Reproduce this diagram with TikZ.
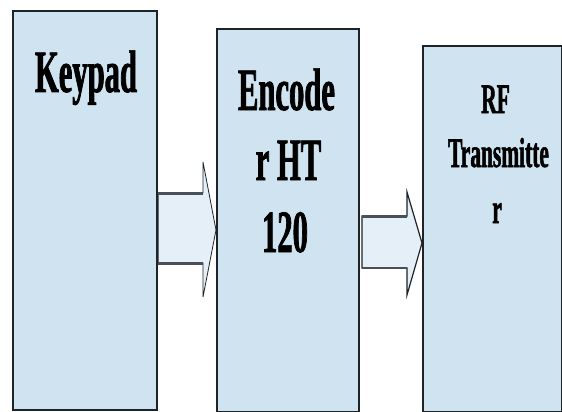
\documentclass[tikz,border=0pt]{standalone}
\usepackage{fontspec}
\newfontfamily\cf{Liberation Serif Bold}[FakeStretch=0.51,FakeBold=1.2]
\usetikzlibrary{calc}
\definecolor{boxfill}{HTML}{CFE3F0}
\definecolor{arrfill}{HTML}{E4EFF7}
\definecolor{shaftline}{HTML}{4A5058}
\definecolor{edge}{HTML}{1E2328}
\tikzset{
  box/.style={draw=edge, fill=boxfill, line width=1.6pt, rectangle, anchor=north west, inner sep=0pt},
  bigtxt/.style={font=\cf\fontsize{60}{70}\selectfont, anchor=base, inner sep=0pt, text=black},
  midtxt/.style={font=\cf\fontsize{42}{50}\selectfont, anchor=base, inner sep=0pt, text=black},
  blkarrow/.style={draw=edge, fill=arrfill, line width=0.8pt, line join=miter},
  shaft/.style={draw=shaftline, line width=3pt}
}
\begin{document}
\begin{tikzpicture}[x=1pt,y=-1pt]
\useasboundingbox (0,0) rectangle (562,412);
\fill[white] (0,0) rectangle (562,412);
% boxes
\node[box, line width=2.2pt, minimum width=144pt, minimum height=399pt] (kp) at (12,10) {};
\node[box, minimum width=142pt, minimum height=383pt] (enc) at (216,28) {};
\node[box, minimum width=139pt, minimum height=366pt] (rf) at (422,45) {};
% texts
\node[bigtxt] (kpt) at (86,92) {Keypad};
\node[bigtxt] (enc1) at (286.5,110) {Encode};
\node[bigtxt] (enc2) at (288.5,180) {r HT};
\node[bigtxt] (enc3) at (285,252) {120};
\node[midtxt] (rf1) at (495.5,113) {RF};
\node[midtxt] (rf2) at (498.5,167) {Transmitte};
\node[midtxt] (rf3) at (497,223) {r};
% block arrow 1
\coordinate (a1s) at (kp.east |- 0,193);
\coordinate (a1t) at (enc.west |- 0,230);
\draw[blkarrow] (a1s) -- (203,193) -- (203,162) -- (a1t) -- (203,297) -- (203,263) -- (kp.east |- 0,263) -- cycle;
\draw[shaft] (kp.east |- 0,193) -- (203,193);
\draw[shaft] (kp.east |- 0,263) -- (203,263);
% block arrow 2
\coordinate (a2s) at (362,216);
\coordinate (a2t) at (rf.west |- 0,243);
\draw[blkarrow, line width=1.2pt] (a2s) -- (407,216) -- (407,192) -- (a2t) -- (407,295) -- (407,268) -- (362,268) -- cycle;
\draw[shaft] (a2s) -- (407,216);
\draw[shaft, line width=2pt] (362,268) -- (407,268);
\end{tikzpicture}
\end{document}
